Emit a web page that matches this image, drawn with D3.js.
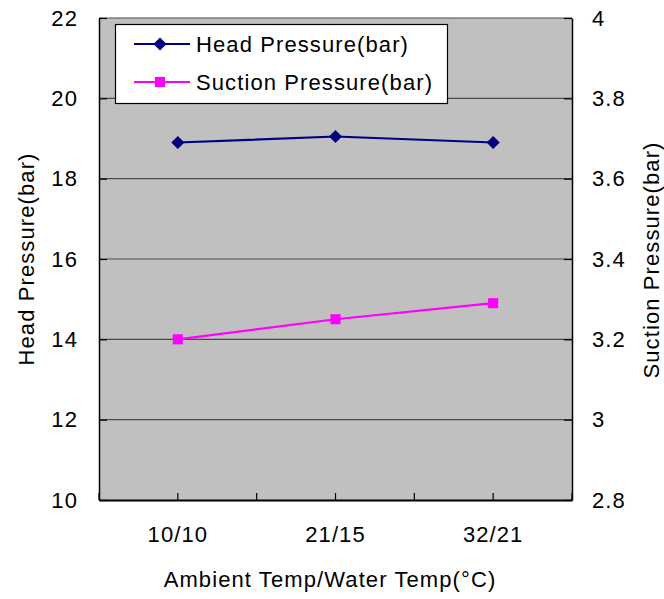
<!DOCTYPE html>
<html><head><meta charset="utf-8">
<script src="https://cdn.jsdelivr.net/npm/d3@7"></script>
<style>body{margin:0;background:#fff;} text{font-family:"Liberation Sans",Arial,sans-serif;}</style>
</head><body>
<script>
const categories = ["10/10", "21/15", "32/21"];
const headPressure = [18.9, 19.05, 18.9];
const suctionPressure = [3.2, 3.25, 3.29];
const leftTicks = [10, 12, 14, 16, 18, 20, 22];
const rightTicks = [2.8, 3, 3.2, 3.4, 3.6, 3.8, 4];
const seriesNames = ["Head Pressure(bar)", "Suction Pressure(bar)"];

const W = 664, H = 599;
const L = 99, R = 572, T = 18, B = 500;
const FS = 22, LS = "1.1px";

const svg = d3.select("body").append("svg").attr("width", W).attr("height", H);

const x = d3.scaleBand().domain(categories).range([L, R]).paddingInner(0).paddingOuter(0);
const yL = d3.scaleLinear().domain([10, 22]).range([B, T]);
const yR = d3.scaleLinear().domain([2.8, 4]).range([B, T]);
const cx = c => x(c) + x.bandwidth() / 2;

svg.append("rect").attr("x", L).attr("y", T).attr("width", R - L).attr("height", B - T).attr("fill", "#C0C0C0");

// gridlines
svg.append("g").selectAll("line").data(leftTicks.filter(d => d > 10)).join("line")
  .attr("x1", L).attr("x2", R).attr("y1", d => yL(d)).attr("y2", d => yL(d))
  .attr("stroke", "#4a4a4a").attr("stroke-width", 1.2);

// left axis
const gL = svg.append("g").attr("transform", `translate(${L},0)`)
  .call(d3.axisLeft(yL).tickValues(leftTicks).tickSizeInner(-8).tickSizeOuter(0).tickPadding(20).tickFormat(d3.format("d")));
gL.select(".domain").attr("stroke", "#000").attr("stroke-width", 1.5);
gL.selectAll(".tick line").attr("stroke", "#000").attr("stroke-width", 1.2);
gL.selectAll(".tick text").attr("font-size", FS).attr("fill", "#000").attr("letter-spacing", LS).attr("dx", "-1");

// right axis
const gR = svg.append("g").attr("transform", `translate(${R},0)`)
  .call(d3.axisRight(yR).tickValues(rightTicks).tickSizeInner(-8).tickSizeOuter(0).tickPadding(20).tickFormat(d => d3.format("")(+d.toFixed(1))));
gR.select(".domain").attr("stroke", "#000").attr("stroke-width", 1.5);
gR.selectAll(".tick line").attr("stroke", "#000").attr("stroke-width", 1.2);
gR.selectAll(".tick text").attr("font-size", FS).attr("fill", "#000").attr("letter-spacing", LS);

// bottom axis
const gB = svg.append("g").attr("transform", `translate(0,${B})`)
  .call(d3.axisBottom(x).tickSize(0).tickPadding(26));
gB.select(".domain").attr("stroke", "#000").attr("stroke-width", 2);
gB.selectAll(".tick text").attr("font-size", FS).attr("fill", "#000").attr("letter-spacing", LS);
// tick marks at boundaries and centers
const tickPos = [];
categories.forEach(c => { tickPos.push(x(c)); tickPos.push(cx(c)); });
tickPos.push(x(categories[categories.length - 1]) + x.bandwidth());
svg.append("g").selectAll("line").data(tickPos).join("line")
  .attr("x1", d => d).attr("x2", d => d).attr("y1", B).attr("y2", B - 7)
  .attr("stroke", "#000").attr("stroke-width", 1.2);

// series
const lineL = d3.line().x((d, i) => cx(categories[i])).y(d => yL(d));
const lineR = d3.line().x((d, i) => cx(categories[i])).y(d => yR(d));
svg.append("path").datum(headPressure).attr("d", lineL).attr("fill", "none").attr("stroke", "#000080").attr("stroke-width", 2.2);
svg.append("path").datum(suctionPressure).attr("d", lineR).attr("fill", "none").attr("stroke", "#FF00FF").attr("stroke-width", 2.2);

const diamond = d3.symbol().type(d3.symbolDiamond2).size(110);
const square = d3.symbol().type(d3.symbolSquare2).size(130);
svg.append("g").selectAll("path").data(headPressure).join("path")
  .attr("transform", (d, i) => `translate(${cx(categories[i])},${yL(d)})`)
  .attr("d", diamond).attr("fill", "#000080");
svg.append("g").selectAll("path").data(suctionPressure).join("path")
  .attr("transform", (d, i) => `translate(${cx(categories[i])},${yR(d)})`)
  .attr("d", square).attr("fill", "#FF00FF");

// legend
const lg = svg.append("g");
lg.append("rect").attr("x", 115.5).attr("y", 24.5).attr("width", 332).attr("height", 79)
  .attr("fill", "#fff").attr("stroke", "#000").attr("stroke-width", 1.2);
const legendItems = [
  { name: seriesNames[0], color: "#000080", sym: diamond, y: 44 },
  { name: seriesNames[1], color: "#FF00FF", sym: square, y: 82 }
];
legendItems.forEach(it => {
  lg.append("line").attr("x1", 134).attr("x2", 190).attr("y1", it.y).attr("y2", it.y)
    .attr("stroke", it.color).attr("stroke-width", 2.2);
  lg.append("path").attr("transform", `translate(160,${it.y})`).attr("d", it.sym).attr("fill", it.color);
  lg.append("text").attr("x", 196).attr("y", it.y).attr("dy", "0.36em")
    .attr("font-size", FS).attr("letter-spacing", LS).attr("fill", "#000").text(it.name);
});

// axis titles
svg.append("text").attr("transform", `translate(34,${(T + B) / 2}) rotate(-90)`)
  .attr("text-anchor", "middle").attr("font-size", FS).attr("letter-spacing", LS).attr("fill", "#000")
  .text("Head Pressure(bar)");
svg.append("text").attr("transform", `translate(659,${(T + B) / 2 + 1}) rotate(-90)`)
  .attr("text-anchor", "middle").attr("font-size", FS).attr("letter-spacing", LS).attr("fill", "#000")
  .text("Suction Pressure(bar)");
svg.append("text").attr("x", 330).attr("y", 587)
  .attr("text-anchor", "middle").attr("font-size", FS).attr("letter-spacing", LS).attr("fill", "#000")
  .text("Ambient Temp/Water Temp(°C)");
</script>
</body></html>
